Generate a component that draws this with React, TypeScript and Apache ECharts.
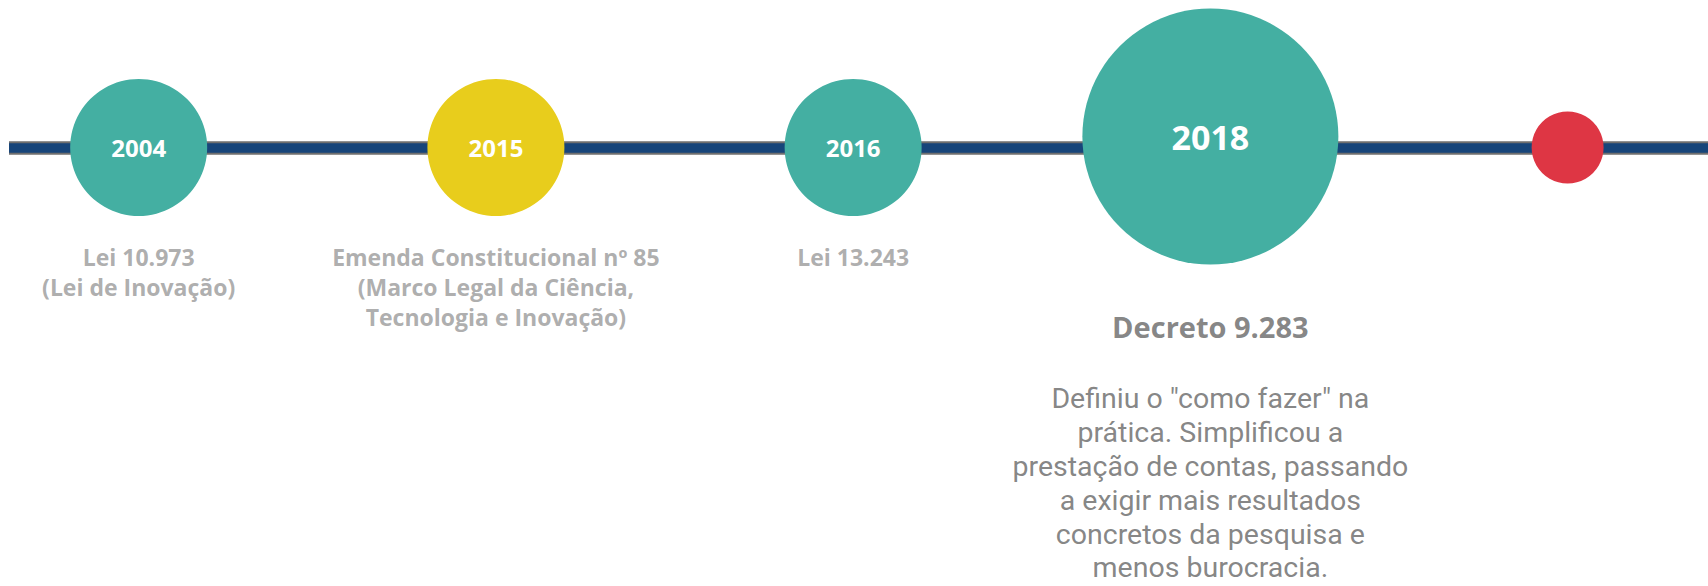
import React, { useEffect, useRef } from "react";
import * as echarts from "echarts";

// Timeline events (left to right)
const years = ["2004", "2015", "2016", "2018", ""];
const kinds = ["lei", "emenda", "lei", "decreto", "hoje"];
const steps = [0, 1, 2, 3, 4];
const titles = [
  "Lei 10.973\n(Lei de Inovação)",
  "Emenda Constitucional nº 85\n(Marco Legal da Ciência,\nTecnologia e Inovação)",
  "Lei 13.243",
  "Decreto 9.283",
  "",
];
const details = [
  "",
  "",
  "",
  'Definiu o "como fazer" na\nprática. Simplificou a\nprestação de contas, passando\na exigir mais resultados\nconcretos da pesquisa e\nmenos burocracia.',
  "",
];

const FONT = "'Open Sans', 'Noto Sans', sans-serif";
const BODY_FONT = "Roboto, 'Open Sans', sans-serif";
const TEAL = "#44AFA2";
const YELLOW = "#E8CD1C";
const RED = "#DE3644";
const NAVY = "#17457A";
const BORDER = "#6f6f6f";

const colorOf = (k: string) => (k === "emenda" ? YELLOW : k === "hoje" ? RED : TEAL);
const sizeOf = (k: string) => (k === "decreto" ? 256 : k === "hoje" ? 72 : 137);

export default function App() {
  const ref = useRef<HTMLDivElement>(null);
  useEffect(() => {
    if (!ref.current) return;
    const chart = echarts.init(ref.current, undefined, { renderer: "svg" });
    const option: any = {
      animation: false,
      backgroundColor: "#ffffff",
      grid: { left: 9, right: 0, top: 0, bottom: 291 },
      xAxis: {
        type: "value",
        min: -0.363,
        max: 4.393,
        axisLine: {
          show: true,
          onZero: true,
          lineStyle: { color: BORDER, width: 13.5, cap: "butt" },
        },
        axisTick: { show: false },
        axisLabel: { show: false },
        splitLine: { show: false },
      },
      yAxis: { type: "value", min: -1, max: 1, show: false },
      series: [
        {
          type: "scatter",
          silent: true,
          z: 2,
          emphasis: { disabled: true },
          label: {
            show: true,
            position: "inside",
            formatter: "{b}",
            color: "#ffffff",
            fontWeight: "bold",
            fontFamily: FONT,
            fontSize: 24,
          },
          data: steps.map((s, i) => ({
            value: [s, 0],
            name: years[i],
            symbolSize: sizeOf(kinds[i]),
            symbolOffset: kinds[i] === "decreto" ? [0, -11] : [0, 0],
            itemStyle: { color: colorOf(kinds[i]), opacity: 1 },
            label: { fontSize: kinds[i] === "decreto" ? 34 : 24 },
          })),
          markLine: {
            silent: true,
            z: 1,
            symbol: "none",
            label: { show: false },
            lineStyle: { color: NAVY, width: 9.5, type: "solid", cap: "butt" },
            data: [{ yAxis: 0 }],
          },
        },
        {
          type: "scatter",
          silent: true,
          z: 3,
          emphasis: { disabled: true },
          symbolSize: 1,
          itemStyle: { color: "rgba(0,0,0,0)" },
          label: {
            show: true,
            position: "bottom",
            distance: 94,
            formatter: "{b}",
            align: "center",
            color: "#999999",
            fontWeight: "bold",
            fontFamily: FONT,
            fontSize: 23,
            lineHeight: 30,
          },
          data: steps.map((s, i) => ({
            value: [s, 0],
            name: titles[i],
            label:
              kinds[i] === "decreto"
                ? { distance: 160, fontSize: 29, lineHeight: 36, color: "#666666" }
                : {},
          })),
        },
        {
          type: "scatter",
          silent: true,
          z: 3,
          emphasis: { disabled: true },
          symbolSize: 1,
          itemStyle: { color: "rgba(0,0,0,0)" },
          label: {
            show: true,
            position: "bottom",
            distance: 234,
            formatter: "{b}",
            align: "center",
            color: "#666666",
            fontWeight: "normal",
            fontFamily: BODY_FONT,
            fontSize: 28.5,
            lineHeight: 33.8,
          },
          data: steps
            .map((s, i) => ({ value: [s, 0], name: details[i] }))
            .filter((d) => d.name !== ""),
        },
      ],
    };
    chart.setOption(option);
    return () => chart.dispose();
  }, []);
  return (
    <div
      ref={ref}
      style={{ position: "absolute", left: 0, top: 0, width: 1708, height: 586 }}
    />
  );
}
